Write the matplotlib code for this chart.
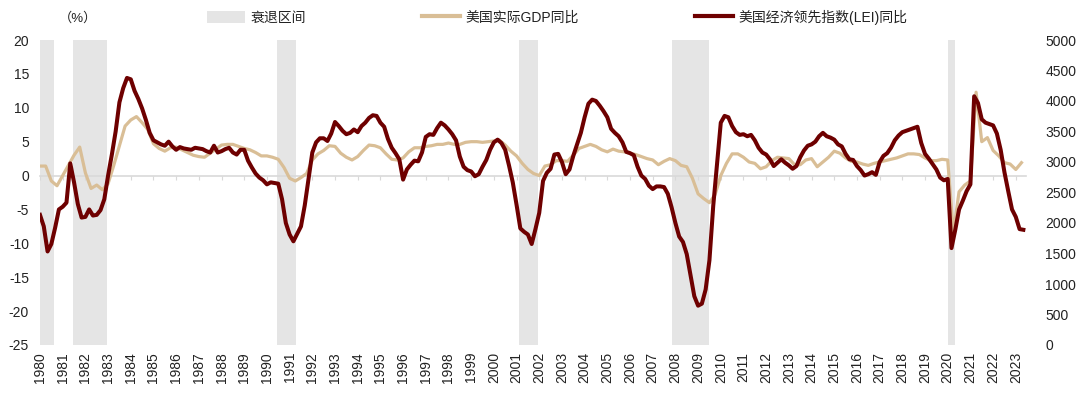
import matplotlib
matplotlib.use("Agg")
import matplotlib.pyplot as plt
from matplotlib.patches import Patch
from matplotlib.lines import Line2D
import numpy as np

plt.rcParams['font.family'] = ['Liberation Sans', 'Noto Sans CJK SC', 'DejaVu Sans']
plt.rcParams['axes.unicode_minus'] = False

# recession bands (decimal years)
rec_start = [1980.0, 1981.45, 1990.45, 2001.1, 2007.85, 2020.0]
rec_end = [1980.62, 1982.95, 1991.28, 2001.94, 2009.47, 2020.32]

# US real GDP yoy, quarterly from 1980Q1
gdp_yoy = [
    1.4, 1.4, -0.8, -1.5,   # 1980
    0.0, 1.5, 3.0, 4.2,     # 1981
    0.4, -1.9, -1.4, -2.1,  # 1982
    -1.2, 1.5, 4.4, 7.3,    # 1983
    8.2, 8.7, 7.8, 6.8,     # 1984
    4.7, 4.0, 3.6, 4.1,     # 1985
    4.2, 3.8, 3.4, 3.0,     # 1986
    2.8, 2.7, 3.3, 3.9,     # 1987
    4.5, 4.6, 4.6, 4.3,     # 1988
    4.0, 3.8, 3.4, 2.9,     # 1989
    2.9, 2.7, 2.4, 1.2,     # 1990
    -0.4, -0.8, -0.3, 0.3,  # 1991
    2.3, 3.2, 3.7, 4.4,     # 1992
    4.3, 3.3, 2.7, 2.3,     # 1993
    2.8, 3.7, 4.5, 4.4,     # 1994
    4.1, 3.2, 2.4, 2.3,     # 1995
    2.6, 3.5, 4.1, 4.1,     # 1996
    4.3, 4.4, 4.6, 4.6,     # 1997
    4.8, 4.6, 4.6, 4.9,     # 1998
    5.0, 5.0, 4.9, 5.0,     # 1999
    5.1, 5.2, 4.5, 3.6,     # 2000
    2.9, 1.8, 0.9, 0.3,     # 2001
    0.0, 1.4, 1.6, 2.2,     # 2002
    2.2, 2.1, 3.0, 4.0,     # 2003
    4.3, 4.6, 4.3, 3.8,     # 2004
    3.5, 3.9, 3.6, 3.5,     # 2005
    3.3, 3.1, 2.8, 2.5,     # 2006
    2.3, 1.6, 2.1, 2.5,     # 2007
    2.2, 1.5, 1.3, -0.4,    # 2008
    -2.7, -3.4, -4.0, -2.8, # 2009
    0.0, 1.8, 3.2, 3.2,     # 2010
    2.7, 2.0, 1.8, 1.0,     # 2011
    1.3, 2.2, 2.7, 2.6,     # 2012
    2.5, 1.6, 1.6, 2.3,     # 2013
    2.5, 1.3, 2.0, 2.7,     # 2014
    3.6, 3.3, 2.6, 2.1,     # 2015
    2.0, 1.7, 1.5, 1.8,     # 2016
    2.0, 2.2, 2.4, 2.6,     # 2017
    2.9, 3.2, 3.2, 3.1,     # 2018
    2.6, 2.2, 2.2, 2.4,     # 2019
    2.3, -8.5, -2.4, -1.4,  # 2020
    -0.8, 12.3, 5.0, 5.6,   # 2021
    3.7, 2.9, 1.9, 1.7,     # 2022
    0.9, 1.9,               # 2023
]

# Conference Board LEI yoy, every two months from Jan 1980
lei_yoy = [
    -5.8, -7.5, -11.2, -10.1, -7.7, -5.0,   # 1980
    -4.6, -4.0, 1.8, -1.0, -4.2, -6.2,      # 1981
    -6.1, -5.0, -5.9, -5.8, -5.1, -3.5,     # 1982
    0.0, 3.1, 6.5, 10.8, 12.9, 14.4,        # 1983
    14.2, 12.5, 11.3, 9.9, 8.2, 6.3,        # 1984
    5.2, 4.9, 4.6, 4.4, 5.0, 4.3,           # 1985
    3.8, 4.2, 4.0, 3.9, 3.8, 4.1,           # 1986
    4.0, 3.9, 3.6, 3.4, 4.4, 3.4,           # 1987
    3.6, 3.9, 4.1, 3.4, 3.1, 3.8,           # 1988
    3.8, 2.2, 1.2, 0.3, -0.3, -0.7,         # 1989
    -1.3, -1.0, -1.1, -1.2, -3.5, -7.0,     # 1990
    -8.7, -9.7, -8.6, -7.5, -4.4, -0.5,     # 1991
    3.4, 4.9, 5.5, 5.5, 5.1, 6.2,           # 1992
    7.9, 7.3, 6.6, 6.1, 6.3, 6.8,           # 1993
    6.4, 7.3, 7.8, 8.5, 8.9, 8.8,           # 1994
    7.8, 7.2, 5.4, 4.1, 3.3, 2.4,           # 1995
    -0.6, 0.9, 1.6, 2.2, 2.1, 3.4,          # 1996
    5.7, 6.1, 6.0, 7.0, 7.8, 7.4,           # 1997
    6.8, 6.1, 5.2, 2.8, 1.3, 0.8,           # 1998
    0.6, -0.1, 0.2, 1.3, 2.3, 3.8,          # 1999
    4.9, 5.3, 4.8, 3.8, 1.5, -1.0,          # 2000
    -4.3, -7.8, -8.3, -8.7, -10.1, -7.9,    # 2001
    -5.5, -0.8, 0.4, 1.0, 3.1, 3.2,         # 2002
    2.0, 0.2, 0.9, 2.9, 4.6, 6.3,           # 2003
    8.6, 10.6, 11.2, 11.0, 10.3, 9.5,       # 2004
    8.6, 6.9, 6.3, 5.8, 4.9, 3.5,           # 2005
    3.3, 3.0, 1.3, 0.0, -0.5, -1.5,         # 2006
    -2.0, -1.6, -1.6, -1.7, -2.7, -4.7,     # 2007
    -7.0, -9.0, -9.8, -11.6, -14.7, -17.8,  # 2008
    -19.2, -18.9, -16.8, -12.5, -4.5, 1.6,  # 2009
    7.8, 8.8, 8.6, 7.3, 6.4, 6.0,           # 2010
    6.1, 5.8, 6.0, 5.2, 4.1, 3.4,           # 2011
    3.1, 2.4, 1.4, 1.9, 2.4, 1.9,           # 2012
    1.5, 1.0, 1.4, 2.7, 3.7, 4.4,           # 2013
    4.6, 5.0, 5.8, 6.3, 5.8, 5.6,           # 2014
    5.3, 4.6, 4.3, 3.2, 2.4, 2.3,           # 2015
    1.4, 0.8, 0.0, 0.2, 0.5, 0.1,           # 2016
    2.0, 2.9, 3.3, 4.1, 5.2, 5.9,           # 2017
    6.4, 6.6, 6.8, 7.0, 7.2, 4.8,           # 2018
    3.2, 2.5, 1.7, 0.9, -0.3, -0.7,         # 2019
    -0.5, -10.7, -8.0, -5.0, -3.7, -2.3,    # 2020
    -1.3, 11.7, 10.7, 8.3, 7.8, 7.6,        # 2021
    7.4, 6.2, 3.8, 0.5, -2.3, -5.0,         # 2022
    -6.1, -7.9, -8.0,                       # 2023
]

years = list(range(1980, 2024))
left_ticks = list(range(-25, 21, 5))
right_ticks = list(range(0, 5001, 500))

gdp_x = 1980 + np.arange(len(gdp_yoy)) / 4
lei_x = 1980 + np.arange(len(lei_yoy)) / 6

c_rec = '#E5E5E5'
c_gdp = '#D9BE96'
c_lei = '#6E0000'

fig = plt.figure(figsize=(10.8, 3.95), dpi=100)
ax = fig.add_axes([40 / 1080, 50 / 395, 986 / 1080, 305 / 395])

for s, e in zip(rec_start, rec_end):
    ax.axvspan(s, e, color=c_rec, lw=0, zorder=0)

ax.plot(gdp_x, gdp_yoy, color=c_gdp, lw=2.3, zorder=3, solid_joinstyle='round')
ax.plot(lei_x, lei_yoy, color=c_lei, lw=2.9, zorder=4, solid_joinstyle='round')

ax.set_xlim(1980, 2023.45)
ax.set_ylim(-25, 20)
ax.set_yticks(left_ticks)
ax.tick_params(axis='y', length=0, pad=8, labelsize=10, colors='#222222')

# category axis sits on the zero line, labels at the bottom
for sp in ['top', 'right', 'left']:
    ax.spines[sp].set_visible(False)
ax.spines['bottom'].set_position(('data', 0))
ax.spines['bottom'].set_color('#D9D9D9')
ax.spines['bottom'].set_linewidth(1.2)
ax.spines['bottom'].set_zorder(1)
ax.set_xticks(years)
ax.tick_params(axis='x', length=3, width=0.8, color='#D9D9D9', labelbottom=False)

sec = ax.secondary_xaxis(0.0)
sec.set_xticks(years)
sec.set_xticklabels([str(y) for y in years], rotation=90)
sec.tick_params(length=0, pad=5, labelsize=10, colors='#222222')
sec.spines['bottom'].set_visible(False)

ax2 = ax.twinx()
ax2.set_ylim(0, 5000)
ax2.set_yticks(right_ticks)
ax2.tick_params(length=0, pad=14, labelsize=10, colors='#222222')
for sp in ax2.spines.values():
    sp.set_visible(False)

fig.text(78 / 1080, 1 - 18 / 395, '（%）', ha='center', va='center', fontsize=9.5, color='#222222')

handles = [
    Patch(facecolor=c_rec, edgecolor='none'),
    Line2D([], [], color=c_gdp, lw=3),
    Line2D([], [], color=c_lei, lw=3),
]
labels = ['衰退区间', '美国实际GDP同比', '美国经济领先指数(LEI)同比']
fig.legend(handles, labels, loc='center', bbox_to_anchor=(0.516, 1 - 17 / 395), ncol=3,
           frameon=False, fontsize=10, handlelength=2.7, handleheight=0.9,
           handletextpad=0.4, columnspacing=8.4, labelcolor='#222222')

fig.savefig('out.png', dpi=100)
